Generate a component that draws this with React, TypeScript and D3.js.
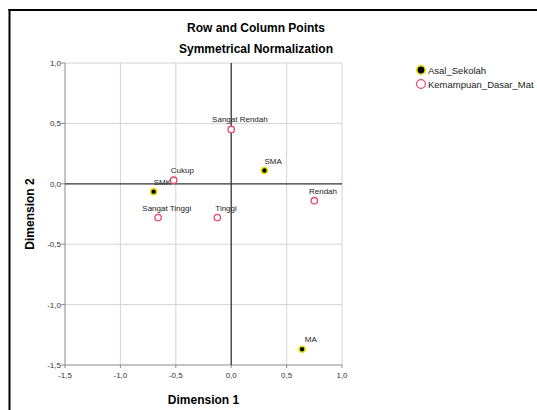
import React from 'react';
import * as d3 from 'd3';

const titleLines = ['Row and Column Points', 'Symmetrical Normalization'];
const xTicks = [-1.5, -1.0, -0.5, 0.0, 0.5, 1.0];
const yTicks = [-1.5, -1.0, -0.5, 0.0, 0.5, 1.0];

const rowSeriesName = 'Asal_Sekolah';
const rowCategories = ['SMA', 'SMK', 'MA'];
const rowDim1 = [0.30, -0.70, 0.64];
const rowDim2 = [0.11, -0.065, -1.37];

const colSeriesName = 'Kemampuan_Dasar_Mat';
const colCategories = ['Sangat Rendah', 'Cukup', 'Sangat Tinggi', 'Tinggi', 'Rendah'];
const colDim1 = [0.0, -0.52, -0.66, -0.125, 0.75];
const colDim2 = [0.45, 0.03, -0.28, -0.28, -0.14];

const W = 537;
const H = 410;
const plot = { left: 65, right: 342, top: 63, bottom: 365 };
const FONT = '"Liberation Sans", Arial, sans-serif';

const fmt = (v: number) => v.toFixed(1).replace('.', ',').replace('-0,0', '0,0');

export default function App() {
  const x = d3.scaleLinear().domain([-1.5, 1.0]).range([plot.left, plot.right]);
  const y = d3.scaleLinear().domain([-1.5, 1.0]).range([plot.bottom, plot.top]);
  const cx = (plot.left + plot.right) / 2;
  const cy = (plot.top + plot.bottom) / 2;

  const rows = rowCategories.map((c, i) => ({ c, px: x(rowDim1[i]), py: y(rowDim2[i]) }));
  const cols = colCategories.map((c, i) => ({ c, px: x(colDim1[i]), py: y(colDim2[i]) }));

  return (
    <svg width={W} height={H} style={{ position: 'absolute', left: 0, top: 0, background: '#fff' }} fontFamily={FONT}>
      <rect x={0} y={0} width={W} height={H} fill="#fff" />
      {/* frame */}
      <line x1={9.5} y1={9} x2={9.5} y2={H} stroke="#000" strokeWidth={2} />
      <line x1={8.5} y1={10} x2={W} y2={10} stroke="#000" strokeWidth={2} />

      {/* title */}
      {titleLines.map((t, i) => (
        <text key={t} x={256} y={32 + i * 21} textAnchor="middle" fontSize={12} fontWeight="bold" fill="#000">{t}</text>
      ))}

      {/* grid */}
      {xTicks.filter(t => t !== -1.5 && t !== 0).map(t => (
        <line key={'gx' + t} x1={x(t)} x2={x(t)} y1={plot.top} y2={plot.bottom} stroke="#d4d4d4" strokeWidth={1} />
      ))}
      {yTicks.filter(t => t !== -1.5 && t !== 0).map(t => (
        <line key={'gy' + t} x1={plot.left} x2={plot.right} y1={y(t)} y2={y(t)} stroke="#d4d4d4" strokeWidth={1} />
      ))}

      {/* axes */}
      <line x1={plot.left} x2={plot.left} y1={plot.top} y2={plot.bottom} stroke="#8a8a8a" strokeWidth={1} />
      <line x1={plot.left} x2={plot.right} y1={plot.bottom} y2={plot.bottom} stroke="#8a8a8a" strokeWidth={1.2} />
      {yTicks.map(t => (
        <g key={'ty' + t}>
          <line x1={plot.left - 4} x2={plot.left} y1={y(t)} y2={y(t)} stroke="#8a8a8a" />
          <text x={plot.left - 4} y={y(t) + 3} textAnchor="end" fontSize={8} fill="#333">{fmt(t)}</text>
        </g>
      ))}
      {xTicks.map(t => (
        <g key={'tx' + t}>
          <line x1={x(t)} x2={x(t)} y1={plot.bottom} y2={plot.bottom + 3} stroke="#8a8a8a" />
          <text x={x(t)} y={plot.bottom + 13} textAnchor="middle" fontSize={8} fill="#333">{fmt(t)}</text>
        </g>
      ))}

      {/* zero reference lines */}
      <line x1={x(0)} x2={x(0)} y1={plot.top} y2={plot.bottom} stroke="#333" strokeWidth={1.3} />
      <line x1={plot.left} x2={plot.right} y1={y(0)} y2={y(0)} stroke="#333" strokeWidth={1.3} />

      {/* axis titles */}
      <text x={cx} y={404} textAnchor="middle" fontSize={12} fontWeight="bold" fill="#000">Dimension 1</text>
      <text transform={`translate(34,${cy}) rotate(-90)`} textAnchor="middle" fontSize={12} fontWeight="bold" fill="#000">Dimension 2</text>

      {/* column points */}
      {cols.map(p => (
        <g key={p.c}>
          <circle cx={p.px} cy={p.py} r={3.2} fill="#fff" stroke="#e8476e" strokeWidth={1.3} />
          <text x={p.px + 8.7} y={p.py - 7} textAnchor="middle" fontSize={8} fill="#222">{p.c}</text>
        </g>
      ))}
      {/* row points */}
      {rows.map(p => (
        <g key={p.c}>
          <circle cx={p.px} cy={p.py} r={3} fill="#000" stroke="#e8e000" strokeWidth={1.6} />
          <text x={p.px + 8.7} y={p.py - 7} textAnchor="middle" fontSize={8} fill="#222">{p.c}</text>
        </g>
      ))}

      {/* legend */}
      <circle cx={421} cy={70} r={4.2} fill="#000" stroke="#e8e000" strokeWidth={1.6} />
      <text x={428} y={73.5} fontSize={9.5} fill="#222">{rowSeriesName}</text>
      <circle cx={421} cy={84} r={4.4} fill="#fff" stroke="#e8476e" strokeWidth={1.2} />
      <text x={428} y={87.5} fontSize={9.5} fill="#222">{colSeriesName}</text>
    </svg>
  );
}
